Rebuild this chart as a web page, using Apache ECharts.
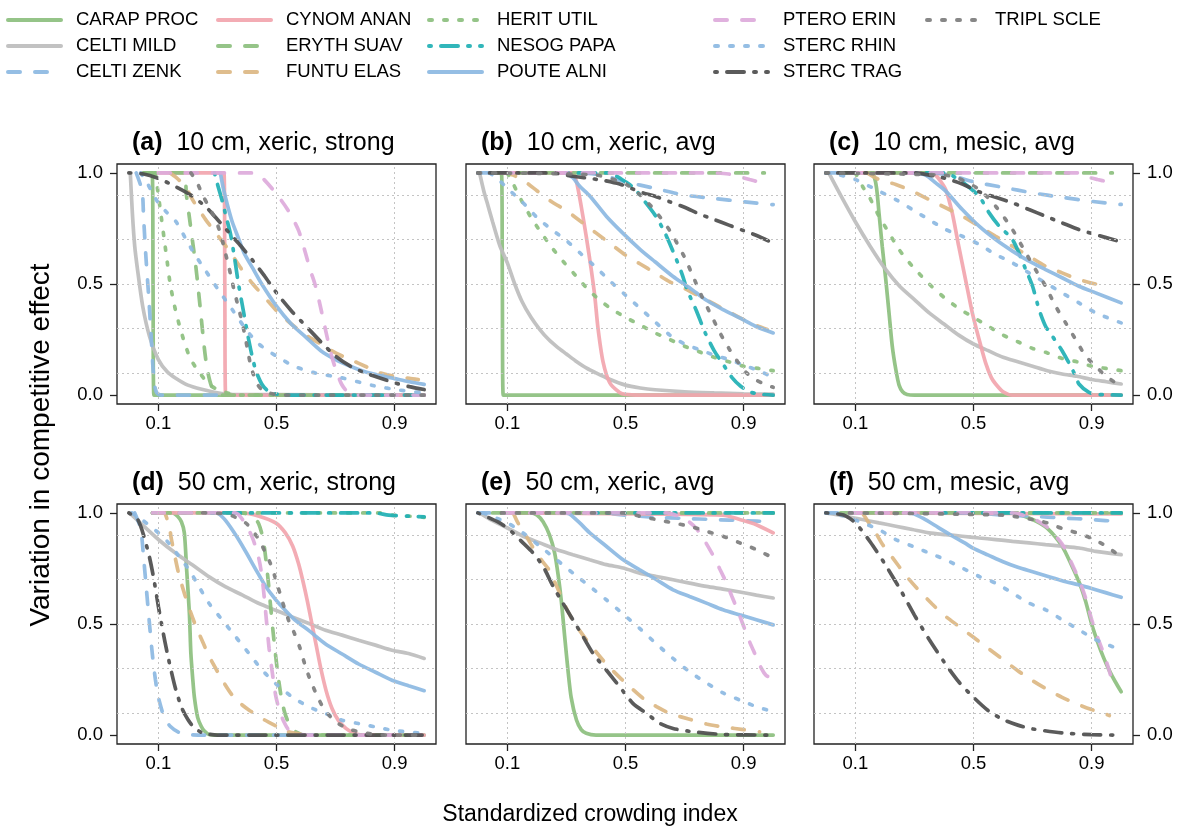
<!DOCTYPE html>
<html>
<head>
<meta charset="utf-8">
<title>Competitive effect vs crowding</title>
<script src="https://cdn.jsdelivr.net/npm/echarts@6/dist/echarts.min.js"></script>
<style>
  html, body { margin: 0; padding: 0; background: #fff; }
  #chart { width: 1185px; height: 832px; }
</style>
</head>
<body>
<div id="chart"></div>
<script>
const species = ['CARAP PROC', 'CELTI MILD', 'CELTI ZENK', 'CYNOM ANAN', 'ERYTH SUAV', 'FUNTU ELAS', 'HERIT UTIL',
  'NESOG PAPA', 'POUTE ALNI', 'PTERO ERIN', 'STERC RHIN', 'STERC TRAG', 'TRIPL SCLE']

const panelTitles = [
  ['(a)', '10 cm, xeric, strong'], ['(b)', '10 cm, xeric, avg'], ['(c)', '10 cm, mesic, avg'],
  ['(d)', '50 cm, xeric, strong'], ['(e)', '50 cm, xeric, avg'], ['(f)', '50 cm, mesic, avg'],
]

const xTicks = [0.1, 0.5, 0.9]
const yTicks = [0, 0.5, 1]
const xGrid = [0.1, 0.5, 0.9]
const yGrid = [0.1, 0.3, 0.5, 0.7, 0.9]

// curves per panel, same order as species
const panelA = [
  [[0.05, 1], [0.079, 1], [0.082, 0.5], [0.085, 0], [1, 0]],
  [[0.005, 1], [0.012, 0.82], [0.02, 0.67], [0.03, 0.56], [0.047, 0.4], [0.07, 0.265], [0.1, 0.16], [0.13, 0.105], [0.16, 0.075], [0.2, 0.045], [0.25, 0.025], [0.3, 0.01], [0.35, 0.003], [1, 0]],
  [[0.025, 1], [0.045, 0.92], [0.05, 0.8], [0.058, 0.62], [0.067, 0.45], [0.075, 0.28], [0.082, 0.12], [0.088, 0.04], [0.095, 0.01], [0.11, 0], [1, 0]],
  [[0.1, 1], [0.322, 1], [0.325, 0.5], [0.328, 0], [1, 0]],
  [[0.05, 1], [0.185, 1], [0.195, 0.9], [0.205, 0.8], [0.215, 0.7], [0.225, 0.6], [0.235, 0.48], [0.245, 0.35], [0.255, 0.22], [0.265, 0.12], [0.28, 0.04], [0.3, 0.01], [0.32, 0], [1, 0]],
  [[0.14, 1], [0.16, 0.98], [0.19, 0.94], [0.22, 0.87], [0.26, 0.79], [0.3, 0.72], [0.34, 0.65], [0.38, 0.57], [0.42, 0.5], [0.46, 0.44], [0.5, 0.38], [0.55, 0.32], [0.6, 0.27], [0.65, 0.23], [0.7, 0.19], [0.75, 0.16], [0.8, 0.13], [0.85, 0.1], [0.9, 0.085], [0.95, 0.075], [0.98, 0.07]],
  [[0.09, 1], [0.1, 0.9], [0.11, 0.8], [0.12, 0.7], [0.13, 0.6], [0.14, 0.5], [0.155, 0.4], [0.17, 0.32], [0.19, 0.23], [0.21, 0.16], [0.24, 0.1], [0.27, 0.05], [0.3, 0.025], [0.34, 0.008], [0.38, 0], [1, 0]],
  [[0.29, 1], [0.3, 0.95], [0.315, 0.88], [0.33, 0.8], [0.345, 0.72], [0.36, 0.6], [0.37, 0.51], [0.385, 0.4], [0.4, 0.29], [0.415, 0.19], [0.43, 0.11], [0.45, 0.05], [0.47, 0.02], [0.5, 0.005], [0.55, 0], [1, 0]],
  [[0.31, 1], [0.32, 0.93], [0.335, 0.85], [0.35, 0.78], [0.37, 0.71], [0.39, 0.64], [0.42, 0.57], [0.45, 0.5], [0.5, 0.4], [0.55, 0.32], [0.6, 0.26], [0.65, 0.2], [0.7, 0.16], [0.75, 0.13], [0.8, 0.105], [0.85, 0.088], [0.9, 0.074], [0.95, 0.06], [1, 0.048]],
  [[0.1, 1], [0.42, 1], [0.45, 0.98], [0.5, 0.905], [0.54, 0.83], [0.575, 0.74], [0.6, 0.63], [0.615, 0.56], [0.63, 0.5], [0.645, 0.42], [0.66, 0.33], [0.675, 0.24], [0.69, 0.16], [0.705, 0.1], [0.72, 0.05], [0.74, 0.015], [0.77, 0], [1, 0]],
  [[0.04, 1], [0.06, 0.96], [0.08, 0.91], [0.1, 0.865], [0.13, 0.82], [0.16, 0.78], [0.19, 0.71], [0.22, 0.64], [0.26, 0.56], [0.3, 0.48], [0.35, 0.385], [0.4, 0.29], [0.44, 0.23], [0.5, 0.175], [0.56, 0.13], [0.63, 0.1], [0.72, 0.078], [0.83, 0.042], [0.92, 0.022], [1, 0.01]],
  [[0, 1], [0.05, 0.995], [0.1, 0.975], [0.16, 0.937], [0.21, 0.9], [0.26, 0.848], [0.3, 0.79], [0.34, 0.73], [0.38, 0.67], [0.42, 0.605], [0.46, 0.535], [0.5, 0.46], [0.55, 0.38], [0.6, 0.31], [0.65, 0.24], [0.7, 0.175], [0.75, 0.13], [0.8, 0.1], [0.85, 0.077], [0.9, 0.055], [0.95, 0.038], [1, 0.025]],
  [[0.21, 1], [0.23, 0.96], [0.25, 0.9], [0.27, 0.85], [0.29, 0.8], [0.31, 0.73], [0.325, 0.65], [0.34, 0.57], [0.355, 0.48], [0.37, 0.4], [0.385, 0.32], [0.4, 0.22], [0.41, 0.15], [0.42, 0.1], [0.435, 0.05], [0.45, 0.025], [0.48, 0.008], [0.52, 0], [1, 0]],
]

const panelB = [
  [[0.05, 1], [0.08, 1], [0.083, 0.5], [0.086, 0], [1, 0]],
  [[0.006, 1], [0.02, 0.92], [0.035, 0.85], [0.05, 0.78], [0.075, 0.67], [0.1, 0.595], [0.125, 0.5], [0.15, 0.42], [0.18, 0.35], [0.21, 0.295], [0.24, 0.25], [0.27, 0.215], [0.3, 0.185], [0.33, 0.155], [0.37, 0.12], [0.4, 0.1], [0.44, 0.075], [0.5, 0.045], [0.55, 0.032], [0.6, 0.024], [0.7, 0.015], [0.8, 0.01], [0.9, 0.006], [1, 0.004]],
  [[0, 1], [0.35, 1], [0.42, 0.99], [0.5, 0.96], [0.6, 0.93], [0.7, 0.9], [0.8, 0.885], [0.9, 0.87], [1, 0.857]],
  [[0.05, 1], [0.32, 1], [0.334, 0.96], [0.35, 0.85], [0.367, 0.715], [0.384, 0.565], [0.396, 0.445], [0.407, 0.3], [0.424, 0.15], [0.447, 0.055], [0.48, 0.012], [0.5, 0.003], [0.55, 0], [1, 0]],
  [[0.05, 1], [0.97, 1]],
  [[0.09, 1], [0.12, 0.99], [0.16, 0.96], [0.2, 0.92], [0.25, 0.87], [0.3, 0.83], [0.35, 0.78], [0.4, 0.73], [0.45, 0.68], [0.5, 0.63], [0.55, 0.59], [0.6, 0.55], [0.65, 0.51], [0.7, 0.48], [0.75, 0.445], [0.8, 0.41], [0.85, 0.375], [0.9, 0.34], [0.95, 0.31], [0.98, 0.295]],
  [[0.1, 1], [0.12, 0.95], [0.15, 0.87], [0.18, 0.8], [0.21, 0.74], [0.25, 0.665], [0.29, 0.6], [0.33, 0.54], [0.37, 0.48], [0.41, 0.43], [0.45, 0.39], [0.5, 0.35], [0.55, 0.315], [0.6, 0.28], [0.65, 0.25], [0.7, 0.22], [0.75, 0.195], [0.8, 0.17], [0.85, 0.15], [0.9, 0.13], [0.95, 0.12], [1, 0.11]],
  [[0.3, 1], [0.435, 1], [0.47, 0.985], [0.5, 0.96], [0.53, 0.93], [0.56, 0.88], [0.6, 0.81], [0.63, 0.74], [0.66, 0.65], [0.69, 0.55], [0.71, 0.47], [0.74, 0.38], [0.77, 0.28], [0.8, 0.2], [0.83, 0.14], [0.86, 0.08], [0.89, 0.04], [0.92, 0.015], [0.95, 0.005], [1, 0]],
  [[0.3, 1], [0.322, 0.978], [0.345, 0.94], [0.38, 0.895], [0.435, 0.805], [0.49, 0.73], [0.55, 0.655], [0.6, 0.6], [0.66, 0.535], [0.72, 0.48], [0.77, 0.43], [0.83, 0.385], [0.89, 0.345], [0.94, 0.31], [1, 0.28]],
  [[0.08, 1], [0.8, 1], [0.85, 0.995], [0.88, 0.985], [0.92, 0.97], [0.955, 0.958]],
  [[0.04, 1], [0.07, 0.97], [0.1, 0.93], [0.15, 0.87], [0.2, 0.8], [0.25, 0.745], [0.3, 0.695], [0.35, 0.635], [0.4, 0.575], [0.45, 0.51], [0.5, 0.45], [0.55, 0.39], [0.6, 0.33], [0.65, 0.27], [0.7, 0.23], [0.75, 0.205], [0.8, 0.18], [0.85, 0.16], [0.9, 0.135], [0.95, 0.11], [1, 0.08]],
  [[0, 1], [0.25, 1], [0.32, 0.985], [0.38, 0.975], [0.43, 0.965], [0.48, 0.95], [0.52, 0.93], [0.56, 0.91], [0.6, 0.895], [0.65, 0.87], [0.7, 0.845], [0.75, 0.815], [0.8, 0.79], [0.85, 0.765], [0.9, 0.74], [0.95, 0.715], [0.99, 0.69]],
  [[0, 1], [0.4, 0.99], [0.5, 0.95], [0.55, 0.9], [0.6, 0.83], [0.65, 0.74], [0.7, 0.62], [0.73, 0.53], [0.76, 0.44], [0.79, 0.36], [0.82, 0.28], [0.85, 0.21], [0.88, 0.15], [0.91, 0.1], [0.94, 0.07], [0.97, 0.05], [1, 0.035]],
]

const panelC = [
  [[0.1, 1], [0.15, 1], [0.163, 0.985], [0.172, 0.93], [0.18, 0.82], [0.191, 0.67], [0.203, 0.52], [0.214, 0.37], [0.225, 0.22], [0.237, 0.115], [0.248, 0.045], [0.26, 0.015], [0.275, 0.003], [0.3, 0], [1, 0]],
  [[0.01, 1], [0.05, 0.9], [0.1, 0.78], [0.15, 0.67], [0.2, 0.57], [0.25, 0.49], [0.3, 0.43], [0.35, 0.37], [0.4, 0.32], [0.45, 0.27], [0.5, 0.23], [0.55, 0.2], [0.6, 0.17], [0.65, 0.15], [0.7, 0.13], [0.75, 0.11], [0.8, 0.095], [0.85, 0.085], [0.9, 0.07], [0.95, 0.06], [1, 0.05]],
  [[0, 1], [0.35, 1], [0.42, 0.99], [0.5, 0.96], [0.6, 0.935], [0.7, 0.91], [0.8, 0.89], [0.9, 0.872], [1, 0.858]],
  [[0.1, 1], [0.36, 1], [0.372, 0.99], [0.39, 0.96], [0.406, 0.925], [0.428, 0.82], [0.45, 0.67], [0.473, 0.52], [0.496, 0.37], [0.519, 0.25], [0.541, 0.145], [0.56, 0.08], [0.575, 0.05], [0.6, 0.015], [0.632, 0], [1, 0]],
  [[0.05, 1], [0.97, 1]],
  [[0.14, 1], [0.18, 0.97], [0.237, 0.948], [0.293, 0.918], [0.349, 0.88], [0.406, 0.843], [0.462, 0.805], [0.519, 0.76], [0.575, 0.715], [0.632, 0.67], [0.688, 0.625], [0.744, 0.58], [0.8, 0.55], [0.857, 0.52], [0.914, 0.5], [0.953, 0.49]],
  [[0.1, 1], [0.124, 0.94], [0.146, 0.895], [0.18, 0.805], [0.214, 0.73], [0.248, 0.655], [0.293, 0.58], [0.35, 0.5], [0.4, 0.44], [0.45, 0.39], [0.5, 0.35], [0.55, 0.31], [0.6, 0.27], [0.65, 0.24], [0.7, 0.21], [0.75, 0.19], [0.8, 0.165], [0.85, 0.15], [0.9, 0.13], [0.95, 0.12], [1, 0.11]],
  [[0.3, 1], [0.406, 1], [0.44, 0.978], [0.473, 0.948], [0.519, 0.895], [0.553, 0.82], [0.587, 0.76], [0.632, 0.7], [0.677, 0.565], [0.7, 0.49], [0.722, 0.385], [0.744, 0.31], [0.767, 0.265], [0.8, 0.2], [0.823, 0.145], [0.846, 0.085], [0.857, 0.05], [0.891, 0.012], [0.925, 0.003], [1, 0]],
  [[0.3, 1], [0.338, 0.99], [0.372, 0.955], [0.406, 0.918], [0.462, 0.835], [0.519, 0.76], [0.575, 0.7], [0.632, 0.648], [0.688, 0.603], [0.744, 0.565], [0.8, 0.528], [0.857, 0.49], [0.914, 0.46], [1, 0.415]],
  [[0.08, 1], [0.85, 1], [0.89, 0.98], [0.92, 0.97], [0.955, 0.96]],
  [[0, 1], [0.05, 0.99], [0.1, 0.97], [0.135, 0.948], [0.18, 0.918], [0.237, 0.88], [0.293, 0.835], [0.349, 0.79], [0.406, 0.745], [0.462, 0.715], [0.519, 0.678], [0.575, 0.633], [0.632, 0.595], [0.688, 0.55], [0.744, 0.505], [0.8, 0.46], [0.857, 0.415], [0.914, 0.37], [1, 0.325]],
  [[0, 1], [0.3, 1], [0.35, 0.99], [0.406, 0.975], [0.462, 0.95], [0.519, 0.915], [0.575, 0.89], [0.632, 0.865], [0.688, 0.835], [0.744, 0.805], [0.8, 0.775], [0.857, 0.745], [0.914, 0.722], [0.99, 0.693]],
  [[0, 1], [0.4, 0.99], [0.45, 0.975], [0.519, 0.925], [0.575, 0.85], [0.632, 0.745], [0.677, 0.64], [0.71, 0.565], [0.744, 0.49], [0.778, 0.4], [0.812, 0.325], [0.846, 0.25], [0.88, 0.175], [0.914, 0.13], [0.948, 0.085], [1, 0.04]],
]

const panelD = [
  [[0.08, 1], [0.148, 1], [0.165, 0.985], [0.178, 0.96], [0.188, 0.91], [0.196, 0.74], [0.205, 0.55], [0.21, 0.37], [0.216, 0.26], [0.222, 0.17], [0.233, 0.08], [0.245, 0.04], [0.255, 0.02], [0.272, 0.003], [0.3, 0], [1, 0]],
  [[0.002, 1], [0.047, 0.945], [0.103, 0.877], [0.16, 0.817], [0.216, 0.765], [0.272, 0.712], [0.328, 0.667], [0.385, 0.63], [0.441, 0.592], [0.497, 0.562], [0.553, 0.532], [0.61, 0.502], [0.666, 0.472], [0.722, 0.45], [0.778, 0.427], [0.835, 0.405], [0.891, 0.382], [0.947, 0.367], [1, 0.345]],
  [[0.02, 1], [0.04, 0.93], [0.05, 0.8], [0.06, 0.65], [0.07, 0.5], [0.08, 0.36], [0.09, 0.25], [0.1, 0.17], [0.12, 0.08], [0.14, 0.04], [0.17, 0.012], [0.2, 0.003], [0.25, 0], [1, 0]],
  [[0.1, 1], [0.385, 1], [0.441, 0.985], [0.497, 0.955], [0.53, 0.91], [0.555, 0.85], [0.575, 0.77], [0.59, 0.69], [0.605, 0.6], [0.62, 0.5], [0.635, 0.4], [0.65, 0.3], [0.668, 0.2], [0.688, 0.12], [0.71, 0.065], [0.735, 0.03], [0.76, 0.01], [0.79, 0], [1, 0]],
  [[0.08, 1], [0.38, 1], [0.42, 0.985], [0.44, 0.95], [0.455, 0.88], [0.465, 0.78], [0.473, 0.68], [0.48, 0.58], [0.488, 0.47], [0.496, 0.37], [0.505, 0.27], [0.515, 0.18], [0.528, 0.1], [0.545, 0.045], [0.565, 0.015], [0.6, 0], [1, 0]],
  [[0.1, 1], [0.12, 1], [0.13, 0.97], [0.137, 0.945], [0.143, 0.89], [0.154, 0.817], [0.17, 0.72], [0.19, 0.63], [0.21, 0.55], [0.23, 0.48], [0.25, 0.42], [0.27, 0.36], [0.29, 0.31], [0.32, 0.24], [0.35, 0.18], [0.38, 0.14], [0.41, 0.11], [0.46, 0.068], [0.5, 0.04], [0.54, 0.015], [0.58, 0.005], [0.62, 0]],
  [[0.08, 1], [0.85, 1], [0.89, 0.99], [0.95, 0.985], [1, 0.98]],
  [[0.28, 1], [0.83, 1], [0.88, 0.99], [0.95, 0.985], [1, 0.982]],
  [[0.3, 1], [0.306, 0.995], [0.328, 0.965], [0.362, 0.9], [0.396, 0.825], [0.43, 0.745], [0.463, 0.67], [0.497, 0.61], [0.531, 0.56], [0.565, 0.515], [0.61, 0.47], [0.666, 0.41], [0.722, 0.365], [0.778, 0.32], [0.835, 0.283], [0.891, 0.247], [0.947, 0.222], [1, 0.2]],
  [[0.08, 1], [0.36, 1], [0.385, 0.97], [0.418, 0.89], [0.441, 0.79], [0.452, 0.7], [0.46, 0.6], [0.467, 0.5], [0.475, 0.39], [0.486, 0.28], [0.497, 0.18], [0.51, 0.11], [0.525, 0.06], [0.542, 0.022], [0.565, 0.007], [0.6, 0], [1, 0]],
  [[0.01, 1], [0.047, 0.967], [0.103, 0.907], [0.137, 0.862], [0.171, 0.802], [0.205, 0.742], [0.238, 0.667], [0.272, 0.592], [0.317, 0.517], [0.362, 0.442], [0.407, 0.367], [0.452, 0.292], [0.497, 0.232], [0.553, 0.172], [0.61, 0.127], [0.666, 0.097], [0.722, 0.067], [0.778, 0.052], [0.835, 0.037], [0.891, 0.022], [1, 0.007]],
  [[0, 1], [0.03, 0.97], [0.05, 0.9], [0.07, 0.8], [0.085, 0.7], [0.1, 0.58], [0.115, 0.47], [0.13, 0.37], [0.145, 0.28], [0.16, 0.2], [0.18, 0.12], [0.2, 0.07], [0.22, 0.035], [0.25, 0.01], [0.3, 0], [1, 0]],
  [[0.25, 1], [0.33, 0.995], [0.37, 0.975], [0.4, 0.95], [0.44, 0.88], [0.48, 0.77], [0.5, 0.69], [0.52, 0.6], [0.54, 0.52], [0.56, 0.46], [0.58, 0.39], [0.6, 0.3], [0.62, 0.23], [0.64, 0.17], [0.66, 0.12], [0.7, 0.06], [0.75, 0.025], [0.8, 0.01], [0.85, 0], [1, 0]],
]

const panelE = [
  [[0.08, 1], [0.18, 1], [0.2, 0.99], [0.221, 0.96], [0.243, 0.9], [0.26, 0.82], [0.272, 0.72], [0.283, 0.6], [0.294, 0.445], [0.305, 0.295], [0.316, 0.17], [0.334, 0.068], [0.35, 0.025], [0.367, 0.008], [0.4, 0], [1, 0]],
  [[0.006, 1], [0.05, 0.965], [0.1, 0.932], [0.153, 0.895], [0.21, 0.865], [0.266, 0.835], [0.322, 0.812], [0.379, 0.789], [0.435, 0.767], [0.492, 0.752], [0.548, 0.729], [0.605, 0.714], [0.661, 0.699], [0.717, 0.684], [0.774, 0.669], [0.83, 0.657], [0.887, 0.644], [0.943, 0.63], [1, 0.617]],
  [[0, 1], [0.4, 1], [0.5, 0.99], [0.6, 0.98], [0.7, 0.975], [0.8, 0.97], [0.9, 0.965], [1, 0.96]],
  [[0.1, 1], [0.83, 0.99], [0.887, 0.97], [0.943, 0.947], [1, 0.91]],
  [[0.05, 1], [1, 1]],
  [[0.12, 1], [0.136, 0.955], [0.164, 0.895], [0.198, 0.82], [0.22, 0.78], [0.243, 0.74], [0.26, 0.69], [0.277, 0.64], [0.3, 0.57], [0.322, 0.515], [0.345, 0.47], [0.367, 0.43], [0.4, 0.375], [0.435, 0.32], [0.48, 0.26], [0.525, 0.205], [0.56, 0.165], [0.605, 0.128], [0.65, 0.098], [0.72, 0.07], [0.774, 0.05], [0.84, 0.035], [0.9, 0.025], [0.954, 0.015]],
  [[0.08, 1], [1, 1]],
  [[0.4, 1], [1, 1]],
  [[0.3, 1], [0.311, 0.995], [0.345, 0.955], [0.379, 0.91], [0.435, 0.85], [0.492, 0.789], [0.548, 0.744], [0.605, 0.699], [0.661, 0.654], [0.717, 0.624], [0.774, 0.594], [0.83, 0.564], [0.887, 0.541], [0.943, 0.519], [1, 0.496]],
  [[0.085, 1], [0.64, 1], [0.68, 0.985], [0.71, 0.965], [0.74, 0.93], [0.77, 0.87], [0.8, 0.8], [0.82, 0.745], [0.84, 0.69], [0.86, 0.625], [0.88, 0.56], [0.9, 0.49], [0.92, 0.42], [0.94, 0.36], [0.96, 0.3], [0.975, 0.27], [0.995, 0.255]],
  [[0.018, 1], [0.1, 0.955], [0.153, 0.91], [0.21, 0.85], [0.266, 0.79], [0.322, 0.729], [0.379, 0.669], [0.435, 0.609], [0.492, 0.545], [0.548, 0.48], [0.605, 0.41], [0.661, 0.345], [0.717, 0.285], [0.774, 0.235], [0.83, 0.19], [0.887, 0.158], [0.943, 0.128], [1, 0.105]],
  [[0, 1], [0.074, 0.955], [0.119, 0.91], [0.153, 0.865], [0.187, 0.82], [0.221, 0.759], [0.255, 0.669], [0.288, 0.594], [0.322, 0.519], [0.356, 0.444], [0.39, 0.368], [0.435, 0.293], [0.48, 0.218], [0.525, 0.143], [0.571, 0.098], [0.616, 0.053], [0.661, 0.03], [0.729, 0.015], [0.83, 0.003], [1, 0]],
  [[0.08, 1], [0.5, 1], [0.548, 0.985], [0.605, 0.97], [0.661, 0.955], [0.717, 0.94], [0.774, 0.917], [0.83, 0.895], [0.887, 0.865], [0.943, 0.835], [1, 0.797]],
]

const panelF = [
  [[0.08, 1], [0.63, 1], [0.7, 0.97], [0.75, 0.93], [0.8, 0.85], [0.83, 0.77], [0.86, 0.68], [0.88, 0.6], [0.9, 0.5], [0.92, 0.42], [0.94, 0.35], [0.96, 0.29], [0.98, 0.24], [1, 0.195]],
  [[0, 1], [0.067, 0.985], [0.124, 0.97], [0.18, 0.955], [0.237, 0.94], [0.293, 0.925], [0.349, 0.91], [0.406, 0.902], [0.462, 0.895], [0.519, 0.887], [0.575, 0.88], [0.632, 0.872], [0.688, 0.865], [0.744, 0.857], [0.8, 0.85], [0.857, 0.842], [0.914, 0.827], [1, 0.812]],
  [[0, 1], [0.5, 1], [0.6, 0.99], [0.7, 0.985], [0.8, 0.977], [0.9, 0.97], [1, 0.96]],
  [[0.1, 1], [1, 0.995]],
  [[0.05, 1], [1, 1]],
  [[0.124, 1], [0.146, 0.955], [0.169, 0.91], [0.191, 0.86], [0.225, 0.8], [0.27, 0.72], [0.316, 0.65], [0.36, 0.59], [0.4, 0.54], [0.45, 0.49], [0.5, 0.44], [0.55, 0.39], [0.6, 0.34], [0.65, 0.29], [0.7, 0.245], [0.75, 0.205], [0.8, 0.17], [0.85, 0.14], [0.9, 0.115], [0.95, 0.093], [0.96, 0.088]],
  [[0.08, 1], [1, 1]],
  [[0.4, 1], [1, 1]],
  [[0.29, 1], [0.33, 0.975], [0.38, 0.935], [0.43, 0.895], [0.47, 0.865], [0.5, 0.84], [0.55, 0.81], [0.6, 0.78], [0.65, 0.755], [0.7, 0.735], [0.75, 0.715], [0.8, 0.695], [0.86, 0.675], [0.9, 0.66], [0.95, 0.64], [1, 0.62]],
  [[0.08, 1], [0.63, 1], [0.7, 0.975], [0.75, 0.935], [0.8, 0.86], [0.83, 0.78], [0.86, 0.69], [0.88, 0.615], [0.9, 0.52], [0.92, 0.44], [0.94, 0.37], [0.955, 0.31], [0.965, 0.265]],
  [[0, 1], [0.067, 0.985], [0.124, 0.955], [0.18, 0.925], [0.237, 0.88], [0.293, 0.85], [0.349, 0.82], [0.406, 0.789], [0.462, 0.752], [0.519, 0.714], [0.575, 0.684], [0.632, 0.639], [0.688, 0.594], [0.744, 0.564], [0.8, 0.519], [0.857, 0.474], [0.914, 0.429], [1, 0.383]],
  [[0, 1], [0.06, 0.99], [0.1, 0.955], [0.15, 0.87], [0.2, 0.77], [0.25, 0.66], [0.3, 0.54], [0.35, 0.43], [0.4, 0.33], [0.45, 0.24], [0.5, 0.17], [0.55, 0.11], [0.6, 0.07], [0.65, 0.045], [0.7, 0.028], [0.8, 0.01], [0.9, 0.002], [1, 0]],
  [[0.08, 1], [0.6, 0.99], [0.7, 0.97], [0.75, 0.955], [0.8, 0.93], [0.85, 0.91], [0.9, 0.885], [0.95, 0.85], [1, 0.8]],
]

const panels = [panelA, panelB, panelC, panelD, panelE, panelF]

// styles
const colors = ['#8cbf7e', '#bdbdbd', '#8cb8e2', '#f2a5ae', '#8cbf7e', '#dcb783', '#8cbf7e',
  '#1fb0b4', '#8cb8e2', '#ddaadb', '#8cb8e2', '#4d4d4d', '#7d7d7d']
const dashes = {
  solid: 'solid',
  dash: [12, 15],
  dot: [3, 12],
  dotdash: [2, 10, 17, 10],
}
const lineKinds = ['solid', 'solid', 'dash', 'solid', 'dash', 'dash', 'dot', 'dotdash', 'solid', 'dash', 'dot', 'dotdash', 'dot']

const legendCols = [species.slice(0, 3), species.slice(3, 6), species.slice(6, 9), species.slice(9, 12), species.slice(12)]
const legendLeft = [6, 216, 427, 713, 925]

const gridLeft = [117, 466, 814]
const gridTop = [164, 504]
const gridW = 319
const gridH = 240

const font = '"Liberation Sans", Arial, Helvetica, sans-serif'

const chart = echarts.init(document.getElementById('chart'), null, { renderer: 'canvas' })

const grids = []
const xAxes = []
const yAxes = []
const titles = []
const series = []

panels.forEach((curves, p) => {
  const col = p % 3
  const row = Math.floor(p / 3)
  grids.push({
    left: gridLeft[col], top: gridTop[row], width: gridW, height: gridH,
    show: true, borderColor: '#222', borderWidth: 1.3, backgroundColor: 'transparent',
  })
  xAxes.push({
    type: 'value', gridIndex: p, min: -0.04, max: 1.04,
    axisLine: { show: false, onZero: false },
    axisTick: { show: true, length: 7, customValues: xTicks, lineStyle: { color: '#222', width: 1.3 } },
    axisLabel: { show: true, customValues: xTicks, margin: 10, fontSize: 18.5, color: '#000', fontFamily: font, formatter: v => v.toFixed(1) },
    splitLine: { show: false },
  })
  const showY = col !== 1
  yAxes.push({
    type: 'value', gridIndex: p, min: -0.04, max: 1.04,
    position: col === 2 ? 'right' : 'left',
    axisLine: { show: false, onZero: false },
    axisTick: { show: showY, length: 7, customValues: yTicks, lineStyle: { color: '#222', width: 1.3 } },
    axisLabel: { show: showY, customValues: yTicks, margin: 14, fontSize: 18.5, color: '#000', fontFamily: font, formatter: v => v.toFixed(1) },
    splitLine: { show: false },
  })
  titles.push({
    text: '{b|' + panelTitles[p][0] + '}  ' + panelTitles[p][1],
    left: gridLeft[col] + 15, top: gridTop[row] - 33, padding: 0,
    textStyle: {
      fontSize: 25, fontWeight: 'normal', color: '#000', fontFamily: font,
      rich: { b: { fontSize: 25, fontWeight: 'bold', color: '#000', fontFamily: font } },
    },
  })
  // dotted grid lines
  series.push({
    type: 'line', xAxisIndex: p, yAxisIndex: p, data: [], silent: true, z: 1,
    markLine: {
      silent: true, symbol: ['none', 'none'], animation: false,
      label: { show: false },
      lineStyle: { color: '#c4c4c4', width: 1, type: [2, 3] },
      emphasis: { disabled: true },
      data: xGrid.map(v => ({ xAxis: v })).concat(yGrid.map(v => ({ yAxis: v }))),
    },
  })
  curves.forEach((pts, s) => {
    series.push({
      type: 'line', name: species[s], xAxisIndex: p, yAxisIndex: p,
      data: pts, symbol: 'none', smooth: 0.25, z: 2,
      lineStyle: { color: colors[s], width: 3.7, type: dashes[lineKinds[s]], cap: 'round', opacity: 0.92 },
      itemStyle: { color: colors[s] },
      emphasis: { disabled: true },
    })
  })
})

const option = {
  animation: false,
  backgroundColor: '#fff',
  title: titles,
  grid: grids,
  xAxis: xAxes,
  yAxis: yAxes,
  legend: legendCols.map((names, i) => ({
    orient: 'vertical', left: legendLeft[i], top: 10, padding: 0,
    itemWidth: 53, itemHeight: 14, itemGap: 6,
    selectedMode: false,
    data: names,
    itemStyle: { color: 'rgba(0,0,0,0)', borderWidth: 0 },
    lineStyle: { width: 4, cap: 'round' },
    textStyle: { fontSize: 18.5, lineHeight: 20, color: '#000', fontFamily: font, padding: [0, 0, 0, 10] },
  })),
  graphic: [
    {
      type: 'text', x: 41, y: 445, rotation: Math.PI / 2,
      style: { text: 'Variation in competitive effect', fill: '#000', font: '28px ' + font, align: 'center', verticalAlign: 'middle' },
    },
    {
      type: 'text', x: 590, y: 815,
      style: { text: 'Standardized crowding index', fill: '#000', font: '23px ' + font, align: 'center', verticalAlign: 'middle' },
    },
  ],
  series: series,
}

chart.setOption(option)
</script>
</body>
</html>
